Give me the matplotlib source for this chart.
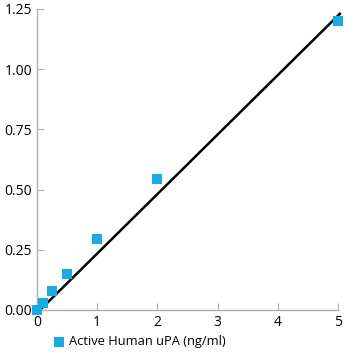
import matplotlib
matplotlib.use('Agg')
import matplotlib.pyplot as plt

# dados
conc = [0, 0.1, 0.25, 0.5, 1, 2, 5]
od = [0.0, 0.03, 0.078, 0.15, 0.295, 0.545, 1.20]
fit_x = [0.05, 5.03]
fit_y = [0.0, 1.23]
xticks = [0, 1, 2, 3, 4, 5]
yticks = [0.0, 0.25, 0.5, 0.75, 1.0, 1.25]
ytick_labels = ['0.00', '0.25', '0.50', '0.75', '1.00', '1.25']

plt.rcParams['font.family'] = ['Open Sans', 'DejaVu Sans']
cor = '#1aaae2'
cinza = '#b0b0b0'

fig = plt.figure(figsize=(3.6, 3.6), dpi=100)
ax = fig.add_axes([0.103, 0.139, 0.836, 0.836])

ax.plot(fit_x, fit_y, color='black', lw=1.8, clip_on=False, zorder=2)
ax.scatter(conc, od, marker='s', s=60, color=cor, linewidths=0,
           clip_on=False, zorder=3, label='Active Human uPA (ng/ml)')

ax.set_xlim(0, 5)
ax.set_ylim(0, 1.25)
ax.set_xticks(xticks)
ax.set_yticks(yticks)
ax.set_yticklabels(ytick_labels)

for s in ['top', 'right']:
    ax.spines[s].set_visible(False)
for s in ['left', 'bottom']:
    ax.spines[s].set_color(cinza)
    ax.spines[s].set_linewidth(1)
ax.tick_params(direction='in', length=5, color=cinza, labelsize=10, pad=3.5)

fig.legend(loc='lower left', bbox_to_anchor=(0.097, 0.0), frameon=False,
           fontsize=9.3, handletextpad=-0.3, markerscale=0.9)

plt.savefig('out.png', dpi=100)
